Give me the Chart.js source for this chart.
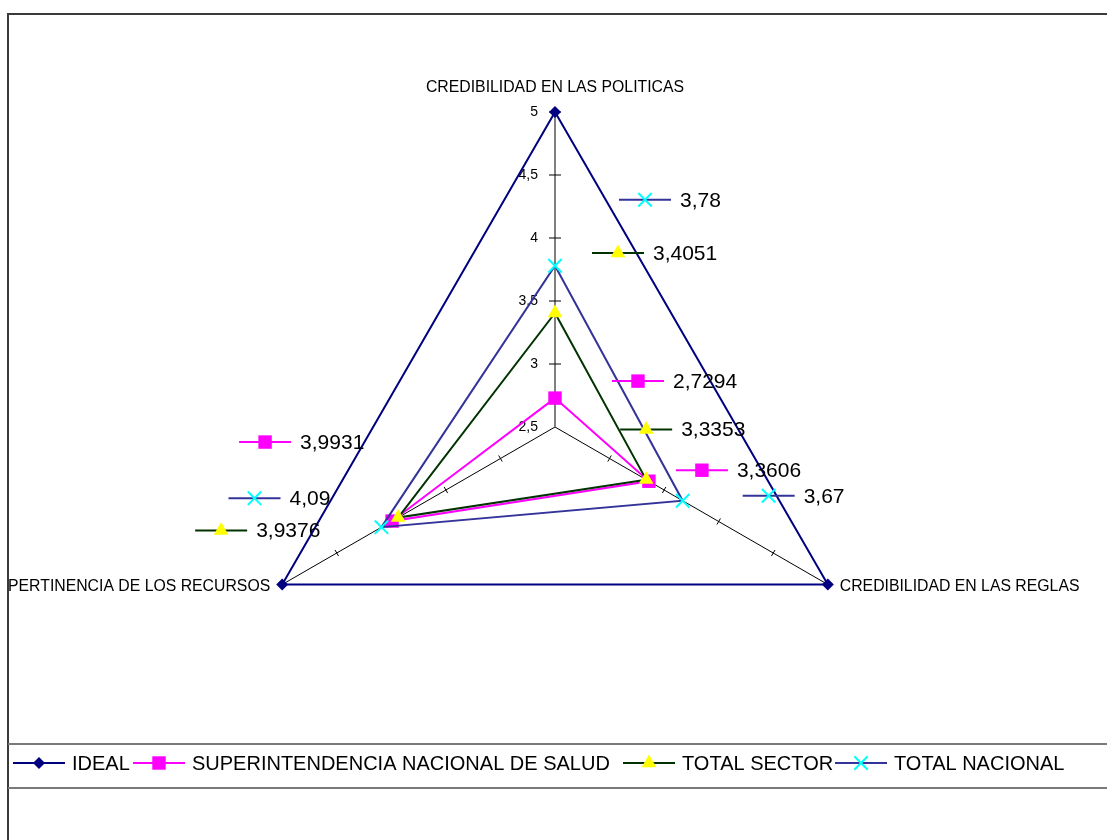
<!DOCTYPE html>
<html>
<head>
<meta charset="utf-8">
<script src="https://cdn.jsdelivr.net/npm/chart.js@4.4.0/dist/chart.umd.min.js"></script>
<style>
  html, body { margin: 0; padding: 0; background: #fff; overflow: hidden; }
  canvas { display: block; }
</style>
</head>
<body>
<canvas id="radar" width="1107" height="840"></canvas>
<script>
// axes of the radar
const categories = ['CREDIBILIDAD EN LAS POLITICAS', 'CREDIBILIDAD EN LAS REGLAS', 'PERTINENCIA DE LOS RECURSOS'];

// series values
const ideal = [5, 5, 5];
const superintendencia = [2.7294, 3.3606, 3.9931];
const totalSector = [3.4051, 3.3353, 3.9376];
const totalNacional = [3.78, 3.67, 4.09];

const seriesNames = ['IDEAL', 'SUPERINTENDENCIA NACIONAL DE SALUD', 'TOTAL SECTOR', 'TOTAL NACIONAL'];

// scale
const scaleMin = 2.5;
const scaleMax = 5;
const scaleStep = 0.5;

// look of each series (line colour, marker)
const styles = [
    { line: '#000080', fill: '#000080', point: 'rectRot', radius: 6 },
    { line: '#FF00FF', fill: '#FF00FF', point: 'rect', radius: 9.5 },
    { line: '#003300', fill: '#FFFF00', point: 'triangle', radius: 8.5 },
    { line: '#333399', fill: '#00FFFF', point: 'crossRot', radius: 9.5 }
];

// where Excel put the value labels, relative to their point (marker centre)
const labelOffsets = [
    null,
    [[83, -17], [53, -11], [-127, -79]],
    [[63, -60], [0, -50], [-177, 13]],
    [[90, -66], [86, -5], [-127, -29]]
];

// legend key centres
const legendKeyX = [39, 159, 649, 861];

const FONT = 'Arial, "Liberation Sans", sans-serif';

function fmt(v) {
    return String(v).replace('.', ',');
}

// small "line + marker" key, like Excel draws next to labels and in the legend
function drawKey(ctx, i, cx, cy) {
    const s = styles[i];
    ctx.save();
    ctx.strokeStyle = s.line;
    ctx.lineWidth = 2;
    ctx.beginPath();
    ctx.moveTo(cx - 26, cy);
    ctx.lineTo(cx + 26, cy);
    ctx.stroke();
    ctx.fillStyle = s.fill;
    ctx.strokeStyle = s.fill;
    Chart.helpers.drawPoint(ctx, {
        pointStyle: s.point,
        radius: s.radius,
        rotation: 0,
        borderWidth: s.point === 'crossRot' ? 2 : 0
    }, cx, cy);
    ctx.restore();
}

const excelLook = {
    id: 'excelLook',
    beforeDraw(chart) {
        const ctx = chart.ctx;
        ctx.save();
        ctx.fillStyle = '#fff';
        ctx.fillRect(0, 0, chart.width, chart.height);
        // outer frame (only left and top are inside the picture)
        ctx.strokeStyle = '#3a3a3a';
        ctx.lineWidth = 2;
        ctx.beginPath();
        ctx.moveTo(8, 842);
        ctx.lineTo(8, 14);
        ctx.lineTo(1110, 14);
        ctx.stroke();
        // legend box
        ctx.strokeStyle = '#7a7a7a';
        ctx.beginPath();
        ctx.moveTo(8, 744);
        ctx.lineTo(1110, 744);
        ctx.moveTo(8, 788);
        ctx.lineTo(1110, 788);
        ctx.stroke();
        ctx.restore();
    },
    beforeDatasetsDraw(chart) {
        const ctx = chart.ctx;
        const r = chart.scales.r;
        ctx.save();
        ctx.strokeStyle = '#000';
        ctx.lineWidth = 1;
        r.ticks.forEach(t => {
            if (t.value <= scaleMin) return;
            for (let i = 0; i < categories.length; i++) {
                const p = r.getPointPositionForValue(i, t.value);
                const half = i === 0 ? 6 : 3.5;
                const px = -Math.sin(p.angle), py = Math.cos(p.angle);
                ctx.beginPath();
                ctx.moveTo(p.x - px * half, p.y - py * half);
                ctx.lineTo(p.x + px * half, p.y + py * half);
                ctx.stroke();
            }
        });
        // tick labels on the value axis
        ctx.fillStyle = '#000';
        ctx.font = '14px ' + FONT;
        ctx.textAlign = 'right';
        ctx.textBaseline = 'middle';
        r.ticks.forEach(t => {
            const p = r.getPointPositionForValue(0, t.value);
            ctx.fillText(fmt(t.value), p.x - 17, p.y);
        });
        // axis titles
        ctx.font = '15.8px ' + FONT;
        const top = r.getPointPositionForValue(0, scaleMax);
        ctx.textAlign = 'center';
        ctx.fillText(categories[0], top.x, top.y - 24);
        const right = r.getPointPositionForValue(1, scaleMax);
        ctx.textAlign = 'left';
        ctx.fillText(categories[1], right.x + 12, right.y + 2);
        const left = r.getPointPositionForValue(2, scaleMax);
        ctx.textAlign = 'right';
        ctx.fillText(categories[2], left.x - 12, left.y + 2);
        ctx.restore();
    },
    afterDraw(chart) {
        const ctx = chart.ctx;
        ctx.save();
        ctx.textBaseline = 'middle';
        ctx.textAlign = 'left';
        // value labels with legend keys
        chart.data.datasets.forEach((ds, i) => {
            if (!labelOffsets[i]) return;
            const meta = chart.getDatasetMeta(i);
            meta.data.forEach((pt, j) => {
                const cx = pt.x + labelOffsets[i][j][0];
                const cy = pt.y + labelOffsets[i][j][1];
                drawKey(ctx, i, cx, cy);
                ctx.fillStyle = '#000';
                ctx.font = '21px ' + FONT;
                ctx.fillText(fmt(ds.data[j]), cx + 35, cy + 1);
            });
        });
        // legend
        seriesNames.forEach((name, i) => {
            const cy = 763;
            drawKey(ctx, i, legendKeyX[i], cy);
            ctx.fillStyle = '#000';
            ctx.font = '20px ' + FONT;
            ctx.fillText(name, legendKeyX[i] + 33, cy + 1);
        });
        ctx.restore();
    }
};

const seriesData = [ideal, superintendencia, totalSector, totalNacional];

new Chart(document.getElementById('radar'), {
    type: 'radar',
    data: {
        labels: categories,
        datasets: seriesData.map((vals, i) => ({
            label: seriesNames[i],
            data: vals,
            order: seriesData.length - 1 - i,
            fill: false,
            borderColor: styles[i].line,
            borderWidth: 2,
            pointStyle: styles[i].point,
            pointRadius: styles[i].radius,
            pointHoverRadius: styles[i].radius,
            pointBackgroundColor: styles[i].fill,
            pointBorderColor: styles[i].fill,
            pointBorderWidth: styles[i].point === 'crossRot' ? 2 : 0,
            tension: 0
        }))
    },
    options: {
        responsive: false,
        animation: false,
        events: [],
        devicePixelRatio: 1,
        layout: { padding: { left: 240, top: 112, right: 237, bottom: 98 } },
        plugins: {
            legend: { display: false },
            tooltip: { enabled: false }
        },
        scales: {
            r: {
                min: scaleMin,
                max: scaleMax,
                startAngle: 0,
                ticks: { display: false, stepSize: scaleStep },
                grid: { display: false },
                pointLabels: { display: false },
                angleLines: {
                    display: true,
                    color: ctx => ctx.index === 0 ? '#808080' : '#000000',
                    lineWidth: ctx => ctx.index === 0 ? 2 : 1
                }
            }
        }
    },
    plugins: [excelLook]
});
</script>
</body>
</html>
